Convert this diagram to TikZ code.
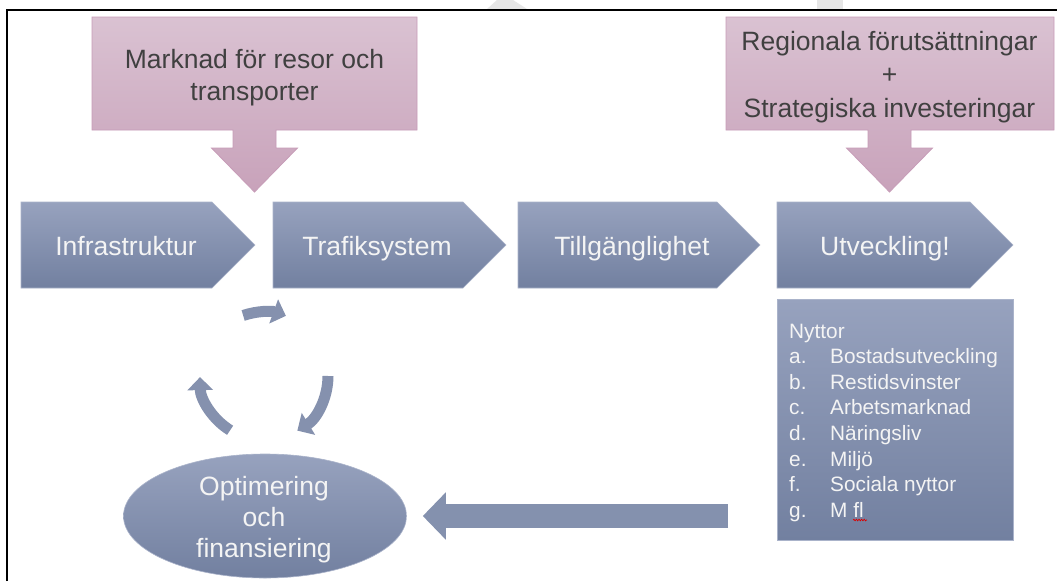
\documentclass[tikz,border=0pt]{standalone}
\usepackage{fontspec}
\setmainfont{Liberation Sans}
\usetikzlibrary{arrows.meta,calc,shapes.geometric,decorations.pathmorphing}
\definecolor{pinkTop}{HTML}{DAC2D2}
\definecolor{pinkBot}{HTML}{C8A2BA}
\definecolor{pinkLine}{HTML}{C79CB8}
\definecolor{blueTop}{HTML}{97A2BE}
\definecolor{blueBot}{HTML}{7280A0}
\definecolor{blueLine}{HTML}{AAB3CA}
\definecolor{cycCol}{HTML}{8591AE}
\definecolor{arrCol}{HTML}{8491AE}
\definecolor{darkTxt}{HTML}{404040}
\definecolor{lightTxt}{HTML}{F4F4F4}
\definecolor{wmark}{HTML}{E6E6E6}
\begin{document}
\begin{tikzpicture}[x=1pt,y=-1pt,
  pinkshape/.style={top color=pinkTop,bottom color=pinkBot,draw=pinkLine,line width=0.8pt},
  chevshape/.style={top color=blueTop,bottom color=blueBot,draw=blueLine,line width=0.6pt},
  chevtxt/.style={anchor=base,inner sep=0pt,text=lightTxt,font=\fontsize{26.5}{32}\selectfont},
  calltxt/.style={anchor=base,inner sep=0pt,text=darkTxt},
  bluebox/.style={rectangle,top color=blueTop,bottom color=blueBot,draw=blueLine,line width=0.6pt,inner sep=0pt},
  blueell/.style={ellipse,top color=blueTop,bottom color=blueBot,draw=blueLine,line width=0.6pt,inner sep=0pt},
  cyclearrow/.style={draw=cycCol,line width=11pt,-{Triangle[length=13pt,width=25pt]}},
  bigarrow/.style={draw=arrCol,line width=24pt,-{Triangle[length=23pt,width=46pt]}}
]
\useasboundingbox (0,0) rectangle (1057,581);
\fill[white] (0,0) rectangle (1057,581);
% faint watermark pieces
\fill[wmark] (497,0) -- (513,0) -- (527,9) -- (487,9) -- cycle;
\fill[wmark] (817,0) rectangle (843,9);
% frame
\draw[line width=2.2pt,black] (7,581) -- (7,10) -- (1057,10);

% pink callouts
\path[pinkshape] (92,17) -- (417,17) -- (417,130) -- (276,130) -- (276,148) -- (297.5,148)
  -- (254.5,192) -- (211.5,148) -- (233,148) -- (233,130) -- (92,130) -- cycle;
\node[calltxt] (market) at (254.5,68) {\fontsize{26.5}{32}\selectfont
  \begin{tabular}[t]{@{}c@{}}Marknad för resor och\\transporter\end{tabular}};

\path[pinkshape] (726,17) -- (1054,17) -- (1054,130) -- (911,130) -- (911,148) -- (932.5,148)
  -- (889.5,192) -- (846.5,148) -- (868,148) -- (868,130) -- (726,130) -- cycle;
\node[calltxt] (regional) at (889.5,50) {\fontsize{26.5}{33.5}\selectfont
  \begin{tabular}[t]{@{}c@{}}Regionala förutsättningar\\+\\Strategiska investeringar\end{tabular}};

% chevrons
\path[chevshape] (21,202) -- (212,202) -- (255,245) -- (212,288) -- (21,288) -- cycle;
\path[chevshape] (273,202) -- (463,202) -- (506,245) -- (463,288) -- (273,288) -- cycle;
\path[chevshape] (518,202) -- (717,202) -- (760,245) -- (717,288) -- (518,288) -- cycle;
\path[chevshape] (777,202) -- (970,202) -- (1013,245) -- (970,288) -- (777,288) -- cycle;
\node[chevtxt] (infra) at (126,255) {Infrastruktur};
\node[chevtxt] (trafik) at (377,255) {Trafiksystem};
\node[chevtxt] (tillg) at (632,255) {Tillgänglighet};
\node[chevtxt] (utv) at (885,255) {Utveckling!};

% Nyttor box
\node[bluebox,minimum width=236pt,minimum height=241pt] (nyttor) at (895,419.5) {};
\node[anchor=base west,inner sep=0pt,text=lightTxt] (nyttortxt) at (789,338)
  {\fontsize{20.8}{25.6}\selectfont
   \begin{tabular}[t]{@{}p{41pt}@{}l@{}}
   \multicolumn{2}{@{}l@{}}{Nyttor}\\
   a. & Bostadsutveckling\\
   b. & Restidsvinster\\
   c. & Arbetsmarknad\\
   d. & Näringsliv\\
   e. & Miljö\\
   f. & Sociala nyttor\\
   g. & M fl
   \end{tabular}};
\draw[red!85!black,line width=0.7pt,decorate,decoration={snake,amplitude=0.8pt,segment length=2.6pt}]
  (853,520) -- (867,520);

% ellipse
\node[blueell,minimum width=283pt,minimum height=124pt] (opt) at (265,516) {};
\node[anchor=base,inner sep=0pt,text=lightTxt] (opttxt) at (264,495)
  {\fontsize{26.5}{31}\selectfont
   \begin{tabular}[t]{@{}c@{}}Optimering\\och\\finansiering\end{tabular}};

% big arrow from Nyttor to ellipse
\coordinate (arrstart) at (728,516);
\draw[bigarrow,shorten >=16pt] (arrstart) -- (opt.east);

% cycle arrows
\coordinate (cyc) at (264,376);
\draw[cyclearrow] ($(cyc)+(-109:64)$) arc[start angle=-109,end angle=-70,radius=64];
\draw[cyclearrow] ($(cyc)+(0:64)$) arc[start angle=0,end angle=58.6,radius=64];
\draw[cyclearrow] ($(cyc)+(122:64)$) arc[start angle=122,end angle=179,radius=64];
\end{tikzpicture}
\end{document}
